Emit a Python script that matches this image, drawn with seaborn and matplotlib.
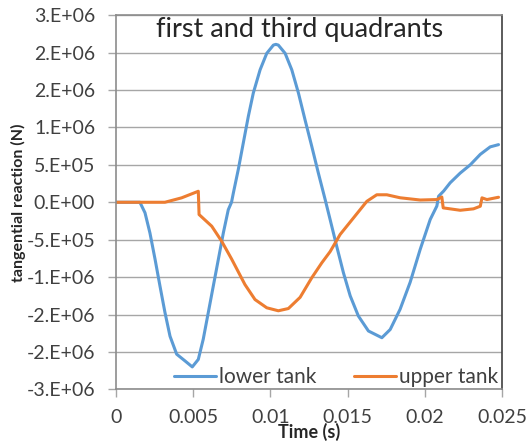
import numpy as np
import pandas as pd
import seaborn as sns
import matplotlib.pyplot as plt

# values
t_lower = [0.0, 0.00155, 0.00188, 0.0022, 0.00253, 0.00285, 0.00317, 0.0035, 0.00393,
           0.00447, 0.00494, 0.00533, 0.00565, 0.00598, 0.0063, 0.00663, 0.00695,
           0.00727, 0.00748, 0.0076, 0.00792, 0.00824, 0.00857, 0.00889, 0.00933,
           0.00976, 0.01019, 0.01035, 0.01051, 0.01095, 0.01138, 0.01181, 0.01224,
           0.01267, 0.0131, 0.01354, 0.01386, 0.01429, 0.01472, 0.01516, 0.01569,
           0.01634, 0.01721, 0.01775, 0.01839, 0.01904, 0.01969, 0.02034, 0.02077,
           0.02088, 0.02121, 0.02163, 0.02228, 0.02293, 0.02358, 0.02422, 0.02476]
f_lower = [0, 0, -1.4e5, -4.1e5, -7.6e5, -1.12e6, -1.47e6, -1.79e6, -2.03e6,
           -2.12e6, -2.2e6, -2.1e6, -1.83e6, -1.47e6, -1.12e6, -7.6e5, -4.1e5,
           -1.0e5, 0, 1.25e5, 4.4e5, 7.9e5, 1.15e6, 1.46e6, 1.77e6,
           1.99e6, 2.1e6, 2.11e6, 2.1e6, 1.99e6, 1.77e6, 1.46e6, 1.1e6,
           7.5e5, 3.9e5, 3.6e4, -2.3e5, -5.9e5, -9.4e5, -1.25e6, -1.52e6,
           -1.72e6, -1.81e6, -1.7e6, -1.43e6, -1.07e6, -6.3e5, -2.3e5, -5e4,
           8e4, 1.5e5, 2.6e5, 3.9e5, 5.0e5, 6.4e5, 7.4e5, 7.7e5]

t_upper = [0.0, 0.00317, 0.00425, 0.00533, 0.00538, 0.0062, 0.00684, 0.00749, 0.00835,
           0.009, 0.00976, 0.01051, 0.01116, 0.01192, 0.01267, 0.01332, 0.01386,
           0.01451, 0.01537, 0.01624, 0.01688, 0.01753, 0.01839, 0.01969, 0.02077,
           0.02109, 0.02118, 0.02228, 0.02314, 0.02358, 0.02369, 0.02401, 0.02476]
f_upper = [0, 0, 5.9e4, 1.47e5, -1.64e5, -3.2e5, -5.2e5, -7.6e5, -1.1e6,
           -1.3e6, -1.41e6, -1.45e6, -1.42e6, -1.27e6, -1.01e6, -8.1e5, -6.6e5,
           -4.3e5, -2.1e5, 1.3e4, 1.0e5, 1.0e5, 6e4, 3e4, 3.6e4,
           7e4, -7.5e4, -1.07e5, -8.8e4, -5.3e4, 5.9e4, 3.6e4, 6.7e4]

y_ticks = [-2.5e6, -2e6, -1.5e6, -1e6, -5e5, 0, 5e5, 1e6, 1.5e6, 2e6, 2.5e6]
y_labels = ["-3.E+06", "-2.E+06", "-2.E+06", "-1.E+06", "-5.E+05", "0.E+00",
            "5.E+05", "1.E+06", "2.E+06", "2.E+06", "3.E+06"]
x_ticks = [0, 0.005, 0.01, 0.015, 0.02, 0.025]
x_labels = ["0", "0.005", "0.01", "0.015", "0.02", "0.025"]

sns.set_style("white")
plt.rcParams['font.family'] = ['Lato', 'DejaVu Sans']

fig = plt.figure(figsize=(5.27, 4.46), dpi=100)
ax = fig.add_axes([0.220, 0.127, 0.733, 0.839])

sns.lineplot(x=t_lower, y=f_lower, ax=ax, color="#5B9BD5", lw=2.2, label="lower tank",
             sort=False, solid_joinstyle="round", solid_capstyle="round")
sns.lineplot(x=t_upper, y=f_upper, ax=ax, color="#ED7D31", lw=2.2, label="upper tank",
             sort=False, solid_joinstyle="round", solid_capstyle="round")

ax.set_xlim(0, 0.025)
ax.set_ylim(-2.5e6, 2.5e6)
ax.set_yticks(y_ticks)
ax.set_yticklabels(y_labels, fontsize=14, color="#404040")
ax.set_xticks(x_ticks)
ax.set_xticklabels(x_labels, fontsize=14, color="#404040")
ax.yaxis.grid(True, color="#a6a6a6", lw=1)
ax.xaxis.grid(False)
ax.tick_params(axis="both", direction="out", length=6, width=1, color="#a6a6a6")
ax.tick_params(axis="y", pad=9)
ax.tick_params(axis="x", pad=8)
ax.tick_params(left=True, bottom=True)
for side in ["left", "bottom", "top"]:
    ax.spines[side].set_color("#8c8c8c")
    ax.spines[side].set_linewidth(1.2)
ax.spines["right"].set_color("#404040")
ax.spines["right"].set_linewidth(1.2)

ax.set_xlabel("Time (s)", fontsize=13, fontweight="bold", labelpad=-2)
ax.set_ylabel("tangential reaction (N)", fontsize=11.5, fontweight="bold", labelpad=0)
ax.text(0.475, 0.995, "first and third quadrants", transform=ax.transAxes,
        ha="center", va="top", fontsize=19.5, color="#262626")

ax.legend(loc="lower center", ncol=2, frameon=False, fontsize=15,
          bbox_to_anchor=(0.57, -0.045), handlelength=2.0, handletextpad=0.15,
          columnspacing=1.8, labelcolor="#404040")

fig.savefig("out.png", dpi=100)
